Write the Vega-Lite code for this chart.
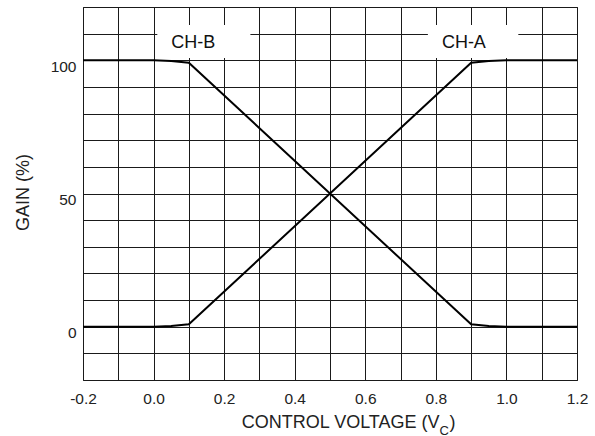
{
  "$schema": "https://vega.github.io/schema/vega-lite/v6.json",
  "width": 494,
  "height": 373,
  "autosize": {"type": "none"},
  "padding": {"left": 83, "top": 7, "right": 18, "bottom": 56},
  "background": "white",
  "title": {
    "text": "C",
    "orient": "bottom",
    "anchor": "start",
    "frame": "group",
    "font": "Liberation Sans",
    "fontSize": 13,
    "fontWeight": "normal",
    "color": "#222",
    "baseline": "alphabetic",
    "offset": 3.5,
    "dx": 356.4
  },
  "config": {
    "view": {"stroke": "#1a1a1a", "strokeWidth": 1},
    "font": "Liberation Sans",
    "axis": {
      "labelFont": "Liberation Sans",
      "titleFont": "Liberation Sans",
      "labelColor": "#222",
      "titleColor": "#222",
      "titleFontWeight": "normal",
      "gridColor": "#1a1a1a",
      "gridOpacity": 1,
      "gridWidth": 1,
      "domain": false,
      "ticks": false
    }
  },
  "datasets": {
    "curves": [
      {"series": "CH-B", "v": -0.2, "gain": 100},
      {"series": "CH-B", "v": 0.0, "gain": 100},
      {"series": "CH-B", "v": 0.05, "gain": 99.7},
      {"series": "CH-B", "v": 0.1, "gain": 99.1},
      {"series": "CH-B", "v": 0.9, "gain": 0.9},
      {"series": "CH-B", "v": 0.95, "gain": 0.3},
      {"series": "CH-B", "v": 1.0, "gain": 0},
      {"series": "CH-B", "v": 1.2, "gain": 0},
      {"series": "CH-A", "v": -0.2, "gain": 0},
      {"series": "CH-A", "v": 0.0, "gain": 0},
      {"series": "CH-A", "v": 0.05, "gain": 0.3},
      {"series": "CH-A", "v": 0.1, "gain": 0.9},
      {"series": "CH-A", "v": 0.9, "gain": 99.1},
      {"series": "CH-A", "v": 0.95, "gain": 99.7},
      {"series": "CH-A", "v": 1.0, "gain": 100},
      {"series": "CH-A", "v": 1.2, "gain": 100}
    ],
    "labels": [
      {"label": "CH-B", "v": 0.0106, "v2": 0.2744, "gain": 100.9, "gain2": 113.2},
      {"label": "CH-A", "v": 0.7774, "v2": 1.0337, "gain": 100.9, "gain2": 113.2}
    ]
  },
  "encoding": {
    "x": {
      "field": "v",
      "type": "quantitative",
      "scale": {"domain": [-0.2, 1.2], "nice": false, "zero": false},
      "axis": {
        "values": [-0.2, -0.1, 0, 0.1, 0.2, 0.3, 0.4, 0.5, 0.6, 0.7, 0.8, 0.9, 1.0, 1.1, 1.2],
        "labelExpr": "abs(round(datum.value*10))%2==0 ? replace(format(datum.value, '.1f'), '\u2212', '-') : ''",
        "labelFontSize": 15.5,
        "labelPadding": 11,
        "labelFlush": false,
        "labelOverlap": false,
        "title": "CONTROL VOLTAGE (V\u00a0\u00a0)",
        "titleFontSize": 18,
        "titleAlign": "right",
        "titleBaseline": "alphabetic",
        "titleAnchor": "start",
        "titleX": 372,
        "titleY": 47
      }
    },
    "y": {
      "field": "gain",
      "type": "quantitative",
      "scale": {"domain": [-20, 120], "nice": false, "zero": false},
      "axis": {
        "values": [-20, -10, 0, 10, 20, 30, 40, 50, 60, 70, 80, 90, 100, 110, 120],
        "labelExpr": "datum.value % 50 == 0 ? format(datum.value, 'd') : ''",
        "labelFontSize": 15.5,
        "labelPadding": 7,
        "labelOffset": 6,
        "labelOverlap": false,
        "labelFlush": false,
        "title": "GAIN (%)",
        "titleFontSize": 18,
        "titleBaseline": "alphabetic",
        "titleAnchor": "start",
        "titleAlign": "center",
        "titleX": -54.5,
        "titleY": 185
      }
    }
  },
  "layer": [
    {
      "data": {"name": "labels"},
      "mark": {"type": "rect", "fill": "white"},
      "encoding": {
        "x2": {"field": "v2"},
        "y2": {"field": "gain2"}
      }
    },
    {
      "data": {"name": "labels"},
      "mark": {"type": "text", "fontSize": 18, "font": "Liberation Sans", "color": "#111", "baseline": "alphabetic", "align": "left", "dx": 14, "dy": -9.6},
      "encoding": {
        "text": {"field": "label"}
      }
    },
    {
      "data": {"name": "curves"},
      "mark": {"type": "line", "color": "#000", "strokeWidth": 2},
      "encoding": {
        "detail": {"field": "series"}
      }
    }
  ]
}
